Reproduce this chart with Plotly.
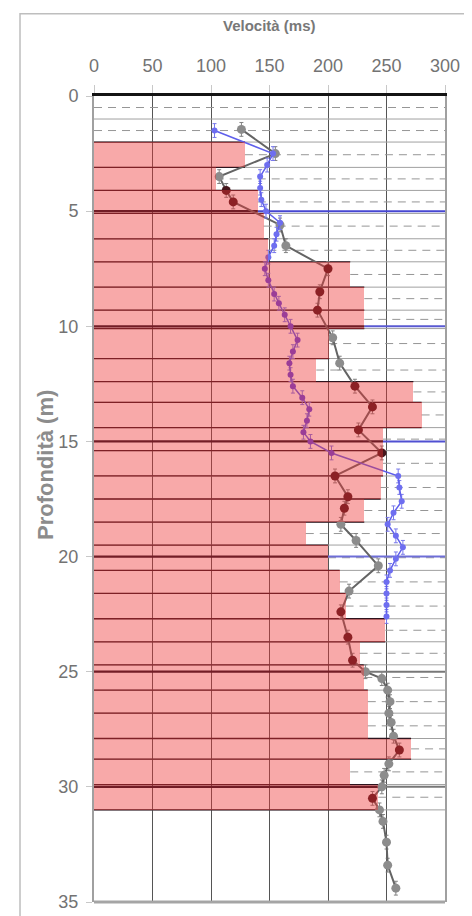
import plotly.graph_objects as go

# ---------------- data ----------------
# layer model (horizontal bars): layer boundaries (m) and shear velocity (m/s)
layer_bounds = [2.0, 3.1, 4.1, 5.1, 6.2, 7.2, 8.3, 9.3, 10.1, 11.4, 12.4, 13.3, 14.4,
                15.4, 16.5, 17.5, 18.5, 19.5, 20.6, 21.6, 22.7, 23.7, 24.7, 25.8,
                26.8, 27.9, 28.8, 29.9, 31.0]
layer_vs = [129, 104, 140, 145, 149, 219, 231, 231, 201, 190, 273, 280, 247, 247,
            245, 231, 181, 200, 210, 215, 249, 227, 231, 234, 234, 271, 219, 243]
upper_bounds = [0.0, 1.0]          # grid-only layers above the first bar

# measured profile 1 (grey)
gray_depth = [1.45, 2.5, 3.5, 4.1, 4.6, 5.6, 6.5, 7.5, 8.5, 9.3, 10.5, 11.6, 12.6,
              13.5, 14.5, 15.5, 16.5, 17.4, 17.9, 18.6, 19.3, 20.4, 21.5, 22.4,
              23.5, 24.5, 25.0, 25.3, 25.8, 26.3, 26.8, 27.2, 27.8, 28.4, 29.0,
              29.5, 30.0, 30.5, 31.0, 31.5, 32.4, 33.4, 34.4]
gray_vs = [126, 155, 107, 113, 119, 159, 164, 200, 193, 191, 204, 210, 223,
           238, 226, 246, 206, 217, 214, 211, 224, 243, 218, 211,
           217, 221, 232, 246, 251, 253, 252, 254, 256, 261, 252,
           248, 246, 238, 244, 247, 250, 251, 258]

# measured profile 2 (blue)
blue_depth = [1.5, 2.5, 3.0, 3.5, 4.0, 4.5, 5.0, 5.5, 6.0, 6.5, 7.0, 7.5, 8.0, 8.6,
              9.0, 9.5, 10.0, 10.6, 11.1, 11.6, 12.1, 12.6, 13.1, 13.6, 14.1, 14.6,
              15.0, 15.5, 16.5, 17.0, 17.6, 18.1, 18.6, 19.1, 19.6, 20.1, 20.6,
              21.1, 21.6, 22.1, 22.6]
blue_vs = [103, 153, 148, 142, 142, 143, 147, 159, 156, 154, 149, 146, 149, 154,
           158, 163, 168, 174, 170, 167, 168, 170, 178, 184, 182, 179,
           185, 203, 260, 261, 263, 256, 251, 258, 264, 258, 253,
           250, 250, 250, 250]

x_ticks = [0, 50, 100, 150, 200, 250, 300]
y_ticks = [0, 5, 10, 15, 20, 25, 30, 35]
major_depths = [5, 10, 15, 20, 25, 30]

# ---------------- helpers ----------------
def vs_at(d):
    for i in range(len(layer_vs)):
        if layer_bounds[i] <= d < layer_bounds[i + 1]:
            return layer_vs[i]
    return 0

all_bounds = upper_bounds + layer_bounds
all_vs = [0] * (len(all_bounds) - 1 - len(layer_vs)) + layer_vs

FONT = "Liberation Sans Narrow, Liberation Sans, Arial, sans-serif"

fig = go.Figure()

# light full-width boundary lines
xs, ys = [], []
for b in all_bounds[1:]:
    xs += [0, 300, None]
    ys += [b, b, None]
fig.add_trace(go.Scatter(x=xs, y=ys, mode="lines", line=dict(color="rgb(160,160,160)", width=1),
                         hoverinfo="skip", showlegend=False))

# dashed mid-layer lines (only in the free area)
xs, ys = [], []
for i in range(len(all_bounds) - 1):
    m = (all_bounds[i] + all_bounds[i + 1]) / 2
    xs += [all_vs[i], 300, None]
    ys += [m, m, None]
fig.add_trace(go.Scatter(x=xs, y=ys, mode="lines",
                         line=dict(color="rgb(150,150,150)", width=1, dash="8px,6px"),
                         hoverinfo="skip", showlegend=False))

# dark boundary lines inside the bars
xs, ys = [], []
for i, b in enumerate(layer_bounds):
    left = layer_vs[i - 1] if i > 0 else 0
    right = layer_vs[i] if i < len(layer_vs) else 0
    xs += [0, max(left, right), None]
    ys += [b, b, None]
fig.add_trace(go.Scatter(x=xs, y=ys, mode="lines", line=dict(color="rgb(45,20,30)", width=1.3),
                         hoverinfo="skip", showlegend=False))

# major depth lines
major_col = {5: "rgb(70,70,210)", 10: "rgb(90,90,210)", 15: "rgb(80,80,210)",
             20: "rgb(110,110,215)", 25: "rgb(120,120,120)", 30: "rgb(120,120,120)"}
for d in major_depths:
    v = vs_at(d)
    fig.add_trace(go.Scatter(x=[v, 300], y=[d, d], mode="lines",
                             line=dict(color=major_col[d], width=2),
                             hoverinfo="skip", showlegend=False))
    fig.add_trace(go.Scatter(x=[0, v], y=[d, d], mode="lines",
                             line=dict(color="rgb(25,15,30)", width=2.2),
                             hoverinfo="skip", showlegend=False))

# grey profile
g_cols = ["rgb(70,22,28)" if v < vs_at(d) else "rgb(140,140,140)"
          for d, v in zip(gray_depth, gray_vs)]
fig.add_trace(go.Scatter(
    x=gray_vs, y=gray_depth, mode="lines+markers",
    line=dict(color="rgb(100,100,100)", width=2),
    marker=dict(size=9, color=g_cols),
    error_y=dict(type="constant", value=0.3, color="rgb(130,130,130)", thickness=1, width=2),
    hoverinfo="skip", showlegend=False))

# blue profile
b_cols = ["rgb(95,70,225)" if v < vs_at(d) else "rgb(110,110,240)"
          for d, v in zip(blue_depth, blue_vs)]
fig.add_trace(go.Scatter(
    x=blue_vs, y=blue_depth, mode="lines+markers",
    line=dict(color="rgb(95,95,235)", width=1.5),
    marker=dict(size=6, color=b_cols),
    error_y=dict(type="constant", value=0.3, color="rgb(120,120,235)", thickness=1, width=2),
    hoverinfo="skip", showlegend=False))

# bars (on overlay axes so they tint everything below)
centers = [(layer_bounds[i] + layer_bounds[i + 1]) / 2 for i in range(len(layer_vs))]
thick = [layer_bounds[i + 1] - layer_bounds[i] for i in range(len(layer_vs))]
fig.add_trace(go.Bar(
    x=layer_vs, y=centers, width=thick, base=0, orientation="h",
    marker=dict(color="rgba(238,50,50,0.42)", line=dict(width=0)),
    xaxis="x2", yaxis="y2", hoverinfo="skip", showlegend=False))

fig.update_layout(
    width=472, height=916,
    margin=dict(l=86, r=35, t=88, b=15),
    paper_bgcolor="white", plot_bgcolor="white",
    bargap=0,
    xaxis=dict(side="top", range=[0, 300], tickvals=x_ticks, showgrid=True,
               gridcolor="rgb(85,85,85)", gridwidth=1, zeroline=False,
               showline=True, linecolor="rgb(20,20,20)", linewidth=3,
               ticks="outside", ticklen=8, tickcolor="rgb(200,200,200)",
               ticklabelstandoff=6,
               tickfont=dict(family=FONT, size=18, color="rgb(115,115,115)")),
    yaxis=dict(range=[35, 0], tickvals=y_ticks, showgrid=False, zeroline=False,
               showline=True, linecolor="rgb(160,160,160)", linewidth=2, mirror=True,
               ticks="outside", ticklen=6, tickcolor="rgb(200,200,200)",
               ticklabelstandoff=4,
               tickfont=dict(family=FONT, size=18, color="rgb(115,115,115)")),
    xaxis2=dict(overlaying="x", range=[0, 300], visible=False, side="top"),
    yaxis2=dict(overlaying="y", range=[35, 0], visible=False),
    shapes=[
        dict(type="line", xref="paper", yref="paper", x0=0, x1=1, y0=0, y1=0,
             line=dict(color="rgb(165,165,165)", width=3)),
        dict(type="rect", xref="paper", yref="paper", x0=-0.2108, x1=1.0969,
             y0=-0.06, y1=1.1021, line=dict(color="rgb(190,190,190)", width=1.5)),
    ],
    annotations=[
        dict(text="<b>Velocità (ms)</b>", xref="paper", yref="paper", x=0.5, y=1.088,
             xanchor="center", yanchor="middle", showarrow=False,
             font=dict(family=FONT, size=15, color="rgb(120,120,120)")),
        dict(text="<b>Profondità (m)</b>", xref="paper", yref="paper", x=-0.14, y=0.542,
             xanchor="center", yanchor="middle", textangle=-90, showarrow=False,
             font=dict(family="Liberation Sans, Arial, sans-serif", size=22,
                       color="rgb(140,140,140)")),
    ],
)

fig.write_html("out.html")
